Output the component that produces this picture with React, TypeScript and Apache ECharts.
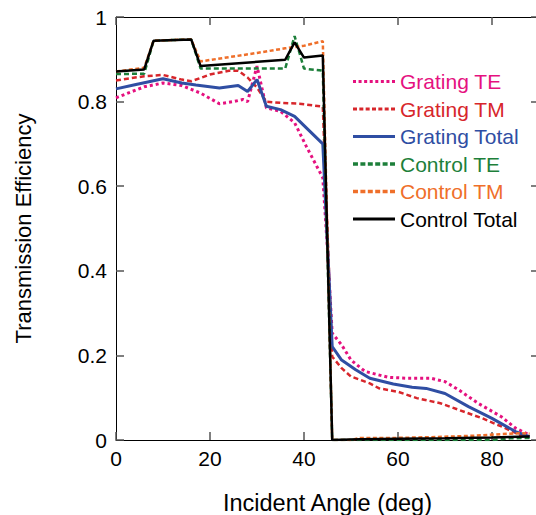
import React, { useEffect, useRef } from "react";
import * as echarts from "echarts";

// Incident angle (deg) and transmission efficiency per series
const angleGratingTE = [0, 6, 10, 14, 18, 22, 25, 27, 28, 30, 32, 35, 38, 40.5, 44, 45, 46, 48, 50, 53, 58, 62, 67, 70, 73, 77, 82, 85, 88];
const gratingTE = [0.809, 0.835, 0.844, 0.838, 0.82, 0.795, 0.8, 0.805, 0.8, 0.884, 0.785, 0.777, 0.75, 0.694, 0.62, 0.45, 0.2525, 0.225, 0.189, 0.162, 0.148, 0.146, 0.146, 0.138, 0.118, 0.087, 0.055, 0.028, 0.012];

const angleGratingTM = [0, 6, 10, 14, 16, 20, 24, 26, 28, 30, 32, 35, 39, 44, 46, 48, 50, 54, 56, 60, 64, 69, 73, 78, 82, 86, 88];
const gratingTM = [0.85, 0.86, 0.863, 0.852, 0.848, 0.864, 0.873, 0.873, 0.857, 0.833, 0.8, 0.797, 0.795, 0.788, 0.197, 0.17, 0.15, 0.134, 0.122, 0.114, 0.099, 0.087, 0.071, 0.051, 0.032, 0.012, 0.008];

const angleGratingTotal = [0, 4, 10, 14, 17, 22, 26, 28, 30, 32, 35, 38, 40.5, 44, 46, 48, 51, 54, 59, 63, 66, 70, 75, 80, 85, 88];
const gratingTotal = [0.83, 0.84, 0.854, 0.844, 0.839, 0.832, 0.838, 0.824, 0.852, 0.789, 0.781, 0.765, 0.738, 0.7, 0.221, 0.189, 0.166, 0.146, 0.1325, 0.1246, 0.122, 0.11, 0.079, 0.051, 0.02, 0.008];

const angleControlTE = [0, 6, 8, 16, 18, 36, 38, 40, 44, 46, 80, 84, 88];
const controlTE = [0.865, 0.866, 0.944, 0.947, 0.878, 0.878, 0.955, 0.878, 0.873, 0, 0, 0.004, 0.005];

const angleControlTM = [0, 6, 8, 16, 18, 24, 30, 36, 40, 44, 46, 50, 52, 60, 68, 76, 82, 86, 88];
const controlTM = [0.871, 0.88, 0.944, 0.947, 0.895, 0.905, 0.915, 0.926, 0.932, 0.943, 0, 0, 0.005, 0.005, 0.007, 0.01, 0.014, 0.016, 0.015];

const angleControlTotal = [0, 6, 8, 16, 18, 36, 38, 40, 44, 46, 52, 60, 70, 80, 88];
const controlTotal = [0.871, 0.876, 0.944, 0.947, 0.884, 0.899, 0.94, 0.904, 0.909, 0, 0.002, 0.003, 0.004, 0.006, 0.008];

const seriesNames = ["Grating TE", "Grating TM", "Grating Total", "Control TE", "Control TM", "Control Total"];
const seriesColors = ["#e5117f", "#d7262b", "#2f4ea3", "#1d7f3a", "#ef6f2a", "#000000"];

const zip = (xs: number[], ys: number[]) => xs.map((x, i) => [x, ys[i]]);

const FONT = "'Liberation Sans', Arial, sans-serif";

// legend sample: n dashes of length d across width W, height h (n = 1 -> solid)
function dashIcon(n: number, d: number, W: number, h: number) {
  if (n <= 1) return `path://M0,0h${W}v${h}h-${W}z`;
  const g = (W - n * d) / (n - 1);
  let p = "path://";
  for (let i = 0; i < n; i++) {
    const x = +(i * (d + g)).toFixed(3);
    p += `M${x},0h${d}v${h}h-${d}z`;
  }
  return p;
}

export default function App() {
  const ref = useRef<HTMLDivElement>(null);
  useEffect(() => {
    if (!ref.current) return;
    const chart = echarts.init(ref.current, null, { renderer: "svg" });
    const datasets = [
      zip(angleGratingTE, gratingTE),
      zip(angleGratingTM, gratingTM),
      zip(angleGratingTotal, gratingTotal),
      zip(angleControlTE, controlTE),
      zip(angleControlTM, controlTM),
      zip(angleControlTotal, controlTotal),
    ];
    const lineStyles: any[] = [
      { width: 3, type: [3, 3] },
      { width: 2.5, type: [5, 3] },
      { width: 3, type: "solid" },
      { width: 2.5, type: [5, 3] },
      { width: 2.5, type: [4, 2.5] },
      { width: 2.5, type: "solid" },
    ];
    const legendIcons = [
      dashIcon(8, 3, 42, 3),
      dashIcon(7, 4, 42, 3),
      dashIcon(1, 42, 42, 3),
      dashIcon(6, 4.5, 38, 3),
      dashIcon(6, 4.5, 38, 3),
      dashIcon(1, 42, 42, 3),
    ];
    const axisCommonX = {
      type: "value",
      min: 0,
      max: 90,
      interval: 20,
      splitLine: { show: false },
      axisLine: { show: true, onZero: false, lineStyle: { color: "#000", width: 1 } },
      axisTick: { show: true, inside: true, length: 8, lineStyle: { color: "#555", width: 1.5 } },
    };
    const axisCommonY = {
      type: "value",
      min: 0,
      max: 1,
      interval: 0.2,
      splitLine: { show: false },
      axisLine: { show: true, onZero: false, lineStyle: { color: "#000", width: 1 } },
      axisTick: { show: true, inside: true, length: 8, lineStyle: { color: "#555", width: 1.5 } },
    };
    chart.setOption({
      animation: false,
      backgroundColor: "#fff",
      textStyle: { fontFamily: FONT },
      grid: { left: 116, top: 17, width: 423, height: 423, containLabel: false, outerBoundsMode: "none" },
      legend: {
        orient: "vertical",
        left: 353,
        top: 71,
        padding: 0,
        itemWidth: 42,
        itemHeight: 14,
        itemGap: 6.5,
        textStyle: { fontSize: 21, fontFamily: FONT, lineHeight: 21 },
        data: seriesNames.map((n, i) => ({ name: n, icon: legendIcons[i], textStyle: { color: seriesColors[i] } })),
      },
      xAxis: [
        {
          ...axisCommonX,
          position: "bottom",
          name: "Incident Angle (deg)",
          nameLocation: "middle",
          nameGap: 51,
          nameTextStyle: { fontSize: 23.5, color: "#000", fontFamily: FONT },
          axisLabel: { show: true, fontSize: 21, color: "#000", margin: 8, fontFamily: FONT, formatter: (v: number) => (v > 80 ? "" : String(v)) },
        },
        {
          ...axisCommonX,
          position: "top",
          axisLabel: { show: false },
        },
      ],
      yAxis: [
        {
          ...axisCommonY,
          position: "left",
          name: "Transmission Efficiency",
          nameLocation: "middle",
          nameGap: 82,
          nameTextStyle: { fontSize: 22, color: "#000", fontFamily: FONT },
          axisLabel: { show: true, fontSize: 21, color: "#000", margin: 9, fontFamily: FONT, formatter: (v: number) => (v === 0 || v === 1 ? String(v) : v.toFixed(1)) },
        },
        {
          ...axisCommonY,
          position: "right",
          axisLabel: { show: false },
        },
      ],
      series: seriesNames.map((n, i) => ({
        name: n,
        type: "line",
        xAxisIndex: 0,
        yAxisIndex: 0,
        symbol: "none",
        data: datasets[i],
        color: seriesColors[i],
        itemStyle: { color: seriesColors[i] },
        lineStyle: { color: seriesColors[i], ...lineStyles[i] },
        z: 2 + i,
      })),
    });
    return () => chart.dispose();
  }, []);
  return <div ref={ref} style={{ width: 536, height: 515, position: "absolute", left: 0, top: 0 }} />;
}
